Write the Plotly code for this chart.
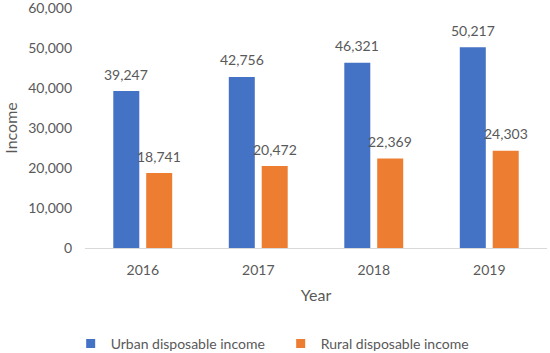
import plotly.graph_objects as go

years = [2016, 2017, 2018, 2019]
urban = [39247, 42756, 46321, 50217]
rural = [18741, 20472, 22369, 24303]
y_ticks = [0, 10000, 20000, 30000, 40000, 50000, 60000]
series_names = ["Urban disposable income", "Rural disposable income"]
colors = ["#4472C4", "#ED7D31"]

font_family = "Lato, 'Open Sans', sans-serif"
txt = "#595959"

fig = go.Figure()
for name, vals, col in zip(series_names, [urban, rural], colors):
    fig.add_trace(go.Bar(x=years, y=vals, name=name, marker_color=col,
                         marker_line_width=0, showlegend=False))
# legend entries with square markers
for name, col in zip(series_names, colors):
    fig.add_trace(go.Scatter(x=[None], y=[None], mode="markers", name=name,
                             marker=dict(symbol="square", size=9, color=col)))

# data labels
for vals, shift in zip([urban, rural], [-16.5, 16.5]):
    for yr, v in zip(years, vals):
        fig.add_annotation(x=yr, y=v, text=f"{v:,}", showarrow=False,
                           xshift=shift, yshift=17, yanchor="middle",
                           font=dict(size=14, color=txt, family=font_family))

fig.update_layout(
    width=550, height=353,
    margin=dict(l=85, r=3, t=8, b=105, autoexpand=False),
    paper_bgcolor="white", plot_bgcolor="white",
    barmode="group", bargap=0.43, bargroupgap=0.21,
    font=dict(family=font_family, color=txt, size=14),
    showlegend=True,
    legend=dict(orientation="h", x=-0.031, xanchor="left", y=-0.40, yanchor="middle",
                font=dict(size=14, color=txt), itemwidth=30, traceorder="normal",
                entrywidth=165, bgcolor="rgba(0,0,0,0)"),
)
fig.update_xaxes(range=[2015.5, 2019.5], tickvals=years, showline=True,
                 linecolor="#D9D9D9", linewidth=1, zeroline=False,
                 showgrid=False, ticks="", tickfont=dict(size=14, color=txt),
                 ticklabelstandoff=9,
                 title=dict(text="Year", font=dict(size=16, color=txt), standoff=13))
fig.update_yaxes(range=[0, 60000], tickvals=y_ticks, tickformat=",", showgrid=False,
                 zeroline=False, showline=False, ticklabelstandoff=12,
                 ticklabeloverflow="allow",
                 tickfont=dict(size=14, color=txt),
                 title=dict(text="Income", font=dict(size=16, color=txt), standoff=6))

fig.write_html("out.html", config={"displayModeBar": False},
               post_script="document.body.style.margin='0px';")
